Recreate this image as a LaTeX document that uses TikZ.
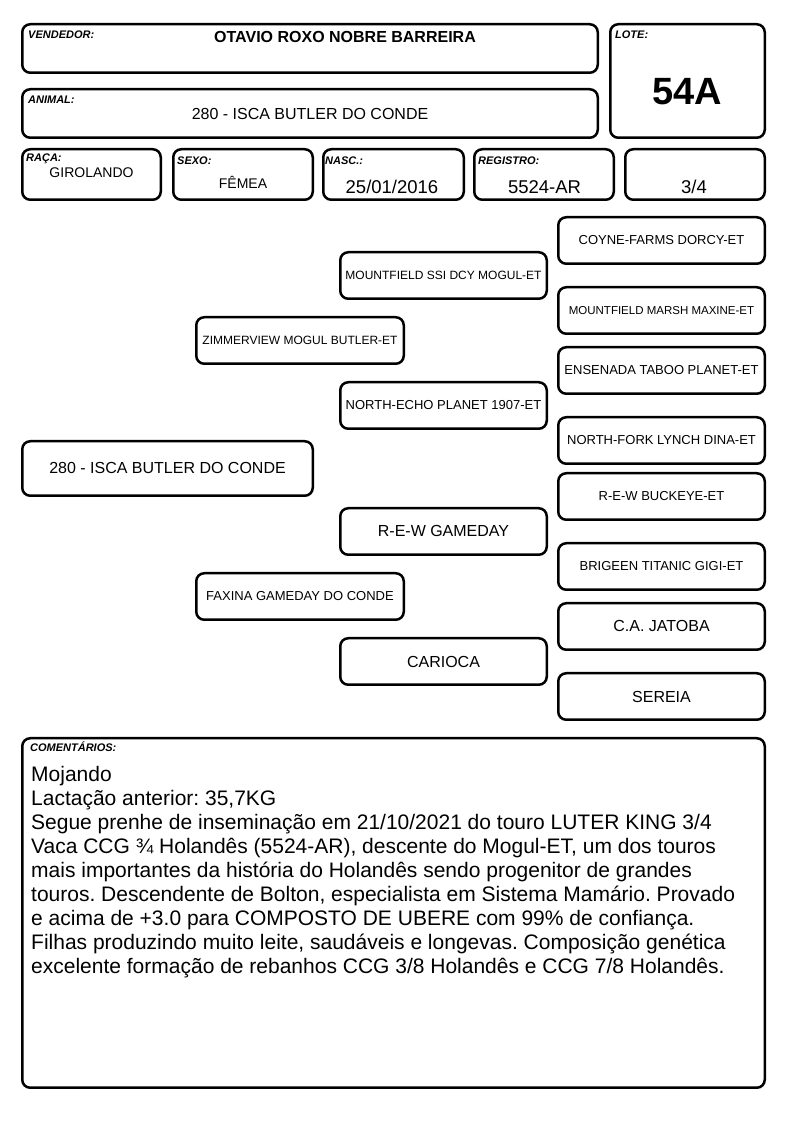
\documentclass[tikz,border=0pt]{standalone}
\usepackage{fontspec}
\setmainfont{Liberation Sans}
\usetikzlibrary{trees}
\frenchspacing

\tikzset{
  campo/.style={draw, line width=2.5pt, rounded corners=8pt, inner sep=0pt},
  rotulo/.style={anchor=base west, inner sep=0pt, font=\fontsize{11}{13}\selectfont\bfseries\itshape},
  valor/.style={anchor=base, inner sep=0pt, font=\fontsize{14}{16}\selectfont},
  ped/.style={campo, minimum width=206.5pt, minimum height=46.5pt, font=\fontsize{13}{15}\selectfont},
  grande/.style={font=\fontsize{16}{18}\selectfont},
  miudo/.style={font=\fontsize{12}{14}\selectfont}
}

\begin{document}
\begin{tikzpicture}[x=1pt, y=1pt]
\useasboundingbox (0,0) rectangle (794,1123);

% cabecalho
\node[campo, minimum width=575.5pt, minimum height=48.5pt] (vendedor) at (310,1074.5) {};
\node[campo, minimum width=575.5pt, minimum height=48.5pt] (animal0) at (310,1009.5) {};
\node[campo, minimum width=154.5pt, minimum height=113.5pt] (lote) at (687.5,1042) {};
\node[campo, minimum width=138.5pt, minimum height=50.5pt] (raca) at (91.5,948.5) {};
\node[campo, minimum width=139.5pt, minimum height=50.5pt] (sexo) at (243,948.5) {};
\node[campo, minimum width=140.5pt, minimum height=50.5pt] (nasc) at (393.5,948.5) {};
\node[campo, minimum width=139.5pt, minimum height=50.5pt] (registro) at (544,948.5) {};
\node[campo, minimum width=139.5pt, minimum height=50.5pt] (grau) at (695,948.5) {};

\node[rotulo] (lvendedor) at (28,1084) {VENDEDOR:};
\node[rotulo] (lanimal) at (28,1019) {ANIMAL:};
\node[rotulo] (llote) at (615,1084) {LOTE:};
\node[rotulo] (lraca) at (26,961) {RAÇA:};
\node[rotulo] (lsexo) at (177,958) {SEXO:};
\node[rotulo] (lnasc) at (325,958) {NASC.:};
\node[rotulo] (lregistro) at (478,958) {REGISTRO:};

\node[valor, font=\fontsize{16}{18}\selectfont\bfseries] (tvendedor) at (345,1080) {OTAVIO ROXO NOBRE BARREIRA};
\node[valor, font=\fontsize{16}{18}\selectfont] (tanimal) at (310,1003) {280 - ISCA BUTLER DO CONDE};
\node[valor, font=\fontsize{38}{40}\selectfont\bfseries] (tlote) at (687.5,1018) {54A};
\node[valor] (traca) at (91.5,945) {GIROLANDO};
\node[valor] (tsexo) at (243,934) {FÊMEA};
\node[valor, font=\fontsize{18.5}{20}\selectfont] (tnasc) at (392,929) {25/01/2016};
\node[valor, font=\fontsize{18.5}{20}\selectfont] (tregistro) at (544.5,929) {5524-AR};
\node[valor, font=\fontsize{18.5}{20}\selectfont] (tgrau) at (694,929) {3/4};

% genealogia
\node[ped, grande, minimum width=290.5pt, minimum height=54.5pt] (animal) at (167.5,654.5) {280 - ISCA BUTLER DO CONDE}
  [grow'=right, edge from parent/.style={draw=none},
   level 1/.style={level distance=132.5pt, sibling distance=256pt},
   level 2/.style={level distance=143.5pt, sibling distance=130pt},
   level 3/.style={level distance=218pt, sibling distance=70pt}]
  child {node[ped, miudo, minimum width=207.5pt] (pai) {ZIMMERVIEW MOGUL BUTLER-ET}
    child {node[ped, miudo] (avopp) {MOUNTFIELD SSI DCY MOGUL-ET}
      child {node[ped] (bisa1) {COYNE-FARMS DORCY-ET}}
      child {node[ped, font=\fontsize{11.5}{14}\selectfont] (bisa2) {MOUNTFIELD MARSH MAXINE-ET}}}
    child {node[ped] (avopm) {NORTH-ECHO PLANET 1907-ET}
      child {node[ped] (bisa3) {ENSENADA TABOO PLANET-ET}}
      child {node[ped] (bisa4) {NORTH-FORK LYNCH DINA-ET}}}}
  child {node[ped, minimum width=207.5pt] (mae) {FAXINA GAMEDAY DO CONDE}
    child {node[ped, grande] (avomp) {R-E-W GAMEDAY}
      child {node[ped] (bisa5) {R-E-W BUCKEYE-ET}}
      child {node[ped] (bisa6) {BRIGEEN TITANIC GIGI-ET}}}
    child {node[ped, grande] (avomm) {CARIOCA}
      child {node[ped, grande] (bisa7) {C.A. JATOBA}}
      child {node[ped, grande] (bisa8) {SEREIA}}}};

% comentarios
\node[campo, minimum width=742.5pt, minimum height=349.5pt] (comentarios) at (393.5,210) {};
\node[rotulo] (lcomentarios) at (30,371) {COMENTÁRIOS:};
\node[anchor=north west, inner sep=0pt, align=left, font=\fontsize{21}{24}\selectfont] (tcomentarios) at (31,356.5)
  {Mojando\\
   Lactação anterior: 35,7KG\\
   Segue prenhe de inseminação em 21/10/2021 do touro LUTER KING 3/4\\
   Vaca CCG ¾ Holandês (5524-AR), descente do Mogul-ET, um dos touros\\
   mais importantes da história do Holandês sendo progenitor de grandes\\
   touros. Descendente de Bolton, especialista em Sistema Mamário. Provado\\
   e acima de +3.0 para COMPOSTO DE UBERE com 99\% de confiança.\\
   Filhas produzindo muito leite, saudáveis e longevas. Composição genética\\
   excelente formação de rebanhos CCG 3/8 Holandês e CCG 7/8 Holandês.};

\end{tikzpicture}
\end{document}
